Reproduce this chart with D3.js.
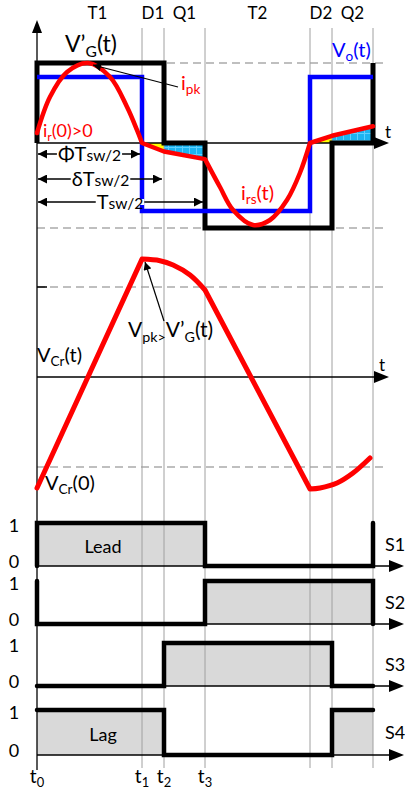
<!DOCTYPE html>
<html>
<head>
<meta charset="utf-8">
<script src="https://cdn.jsdelivr.net/npm/d3@7"></script>
<style>
  body { margin: 0; background: #fff; }
  text { font-family: Lato, "Open Sans", sans-serif; }
</style>
</head>
<body>
<div id="chart"></div>
<script>
// time instants t0..t6, in units of Tsw/2
const tInst = [0, 0.625, 0.756, 1, 1.625, 1.756, 2];
const intervalNames = ["T1", "D1", "Q1", "T2", "D2", "Q2"];
const tickSubs = ["0", "1", "2", "3"];

// square waves, one level per interval, plus level before t0 and after t6
const vgLevels = [1, 1, 0, -1, -1, 0];
const vgEnds = [0, 1];
const voLevels = [0.825, -0.8, -0.8, -0.8, 0.825, 0.825];
const voEnds = [0.825, 0.825];

// resonant current ir(t), [t, value]
const irArc1 = [[0, 0.125], [0.077, 0.575], [0.179, 0.888], [0.304, 1.0], [0.435, 0.825], [0.536, 0.45], [0.595, 0.163], [0.625, 0]];
const irLine1 = [[0.625, 0], [0.756, -0.1], [1, -0.19]];
const irArc2 = [[1, -0.19], [1.089, -0.518], [1.167, -0.788], [1.286, -0.965], [1.387, -0.906], [1.488, -0.671], [1.565, -0.353], [1.625, 0]];
const irLine2 = [[1.625, 0], [1.756, 0.09], [2, 0.21]];

// resonant capacitor voltage VCr(t)
const vcrRise = [[0, -1.233], [0.625, 1.31]];
const vcrArc1 = [[0.625, 1.31], [0.732, 1.292], [0.81, 1.244], [0.911, 1.133], [1, 0.967]];
const vcrFall = [[1, 0.967], [1.625, -1.244]];
const vcrArc2 = [[1.625, -1.244], [1.685, -1.233], [1.786, -1.178], [1.881, -1.067], [1.982, -0.9]];

// gate signals
const gateNames = ["S1", "S2", "S3", "S4"];
const gateLevels = [[1, 1, 1, 0, 0, 0], [0, 0, 0, 1, 1, 1], [0, 0, 1, 1, 1, 0], [1, 1, 0, 0, 0, 1]];
const gateEnds = [[0, 1], [1, 0], [0, 0], [1, 1]];
const gateTags = ["Lead", "", "", "Lag"];

const W = 405, H = 794;
const svg = d3.select("#chart").append("svg").attr("width", W).attr("height", H);

const defs = svg.append("defs");
const pat = defs.append("pattern").attr("id", "cy").attr("patternUnits", "userSpaceOnUse")
  .attr("width", 7).attr("height", 7);
pat.append("rect").attr("width", 7).attr("height", 7).attr("fill", "#1cb4f0");
pat.append("path").attr("d", "M0,0.5H7M0.5,0V7").attr("stroke", "#5fd0ff").attr("stroke-width", 1);

defs.append("marker").attr("id", "ah").attr("viewBox", "0 0 10 10")
  .attr("refX", 10).attr("refY", 5).attr("markerWidth", 11).attr("markerHeight", 9)
  .attr("markerUnits", "userSpaceOnUse").attr("orient", "auto-start-reverse")
  .append("path").attr("d", "M0,0L10,5L0,10Z").attr("fill", "#000");
defs.append("marker").attr("id", "ahs").attr("viewBox", "0 0 10 10")
  .attr("refX", 10).attr("refY", 5).attr("markerWidth", 9).attr("markerHeight", 8)
  .attr("markerUnits", "userSpaceOnUse").attr("orient", "auto")
  .append("path").attr("d", "M0,0L10,5L0,10Z").attr("fill", "#000");

const x = d3.scaleLinear().domain([0, 2]).range([37, 373]);
const yTop = d3.scaleLinear().domain([-1, 0, 1]).range([228, 143, 63]);
const yCr = d3.scaleLinear().domain([-1, 1]).range([467, 287]);
const gateRows = [{ base: 566, high: 523 }, { base: 624, high: 581 }, { base: 686, high: 643 }, { base: 755, high: 710 }];

function stepPts(levels, ends) {
  const p = [[tInst[0], ends[0]]];
  levels.forEach((l, i) => { p.push([tInst[i], l], [tInst[i + 1], l]); });
  p.push([tInst[tInst.length - 1], ends[1]]);
  return p;
}

function rich(sel, px, py, parts, size, color, anchor) {
  const t = sel.append("text").attr("x", px).attr("y", py)
    .attr("font-size", size).attr("fill", color || "#000")
    .attr("text-anchor", anchor || "start");
  let off = 0;
  parts.forEach(([s, kind]) => {
    const sp = t.append("tspan").text(s);
    let target = 0;
    if (kind === "sub") { sp.attr("font-size", size * 0.68); target = size * 0.22; }
    else if (kind === "small") { sp.attr("font-size", size * 0.78); }
    sp.attr("dy", target - off);
    off = target;
  });
  return t;
}

function arrowHead(px, py, dir) {
  const d = dir === "r"
    ? `M${px},${py}L${px - 15},${py - 6}L${px - 15},${py + 6}Z`
    : `M${px},${py}L${px - 5},${py + 13}L${px + 5},${py + 13}Z`;
  svg.append("path").attr("d", d).attr("fill", "#000");
}

// dashed reference lines
[yTop(1), yTop(-1), yCr(1), yCr(-1)].forEach(yy => {
  svg.append("line").attr("x1", x(0)).attr("x2", 388).attr("y1", yy).attr("y2", yy)
    .attr("stroke", "#808080").attr("stroke-width", 1.2).attr("stroke-dasharray", "8,5");
});
svg.append("line").attr("x1", x(0)).attr("x2", x(0) + 10).attr("y1", yCr(1)).attr("y2", yCr(1))
  .attr("stroke", "#000").attr("stroke-width", 1.5);

// gate gray fills (under grid)
const gStep = d3.area().curve(d3.curveStepAfter);
gateLevels.forEach((lv, k) => {
  const r = gateRows[k];
  const yg = d3.scaleLinear().domain([0, 1]).range([r.base, r.high]);
  const pts = lv.map((l, i) => [tInst[i], l]).concat([[tInst[6], lv[5]]]);
  svg.append("path").datum(pts)
    .attr("d", gStep.x(d => x(d[0])).y0(r.base).y1(d => yg(d[1])))
    .attr("fill", "#d9d9d9");
});

// yellow / cyan areas between t axis and ir(t)
const fillArea = d3.area().x(d => x(d[0])).y0(yTop(0)).y1(d => yTop(d[1]));
[[irLine1.slice(0, 2), "#ffff00"], [irLine1.slice(1, 3), "url(#cy)"],
 [irLine2.slice(0, 2), "#ffff00"], [irLine2.slice(1, 3), "url(#cy)"]].forEach(([pts, c]) => {
  svg.append("path").datum(pts).attr("d", fillArea).attr("fill", c);
});

// vertical grid lines
tInst.slice(1).forEach(t => {
  svg.append("line").attr("x1", x(t)).attr("x2", x(t)).attr("y1", 28).attr("y2", 768)
    .attr("stroke", "#a0a0a0").attr("stroke-width", 1);
});

// axes
svg.append("line").attr("x1", x(0)).attr("x2", x(0)).attr("y1", 30).attr("y2", 770)
  .attr("stroke", "#000").attr("stroke-width", 1.3);
arrowHead(x(0), 20, "u");
[yTop(0), yCr(0)].forEach(yy => {
  svg.append("line").attr("x1", x(0)).attr("x2", 378).attr("y1", yy).attr("y2", yy)
    .attr("stroke", "#000").attr("stroke-width", 1.3);
  arrowHead(389, yy, "r");
});
gateRows.forEach(r => {
  svg.append("line").attr("x1", x(0)).attr("x2", 392).attr("y1", r.base).attr("y2", r.base)
    .attr("stroke", "#000").attr("stroke-width", 1.3);
  arrowHead(404, r.base, "r");
});

// top panel waveforms
const lin = d3.line().x(d => x(d[0])).y(d => yTop(d[1]));
svg.append("path").datum(stepPts(vgLevels, vgEnds)).attr("d", lin)
  .attr("fill", "none").attr("stroke", "#000").attr("stroke-width", 5).attr("stroke-linejoin", "miter");
svg.append("path").datum(stepPts(voLevels, voEnds)).attr("d", lin)
  .attr("fill", "none").attr("stroke", "#0000ff").attr("stroke-width", 4.5).attr("stroke-linejoin", "miter");

const smooth = d3.line().x(d => x(d[0])).y(d => yTop(d[1])).curve(d3.curveCatmullRom.alpha(0.5));
const irD = [irArc1, irLine1, irArc2, irLine2].map((seg, i) => {
  const d = (i % 2 ? lin : smooth)(seg);
  return i === 0 ? d : "L" + d.slice(1);
}).join("");
svg.append("path").attr("d", irD).attr("fill", "none").attr("stroke", "#ff0000")
  .attr("stroke-width", 4.5).attr("stroke-linejoin", "round").attr("stroke-linecap", "round");

// VCr panel
const linC = d3.line().x(d => x(d[0])).y(d => yCr(d[1]));
const smC = d3.line().x(d => x(d[0])).y(d => yCr(d[1])).curve(d3.curveCatmullRom.alpha(0.5));
const vcrD = [vcrRise, vcrArc1, vcrFall, vcrArc2].map((seg, i) => {
  const d = (i % 2 ? smC : linC)(seg);
  return i === 0 ? d : "L" + d.slice(1);
}).join("");
svg.append("path").attr("d", vcrD).attr("fill", "none").attr("stroke", "#ff0000")
  .attr("stroke-width", 5).attr("stroke-linejoin", "round").attr("stroke-linecap", "round");

// gate lines
gateLevels.forEach((lv, k) => {
  const r = gateRows[k];
  const yg = d3.scaleLinear().domain([0, 1]).range([r.base, r.high]);
  svg.append("path").datum(stepPts(lv, gateEnds[k]))
    .attr("d", d3.line().x(d => x(d[0])).y(d => yg(d[1])))
    .attr("fill", "none").attr("stroke", "#000").attr("stroke-width", 4.5)
    .attr("stroke-linejoin", "miter").attr("stroke-linecap", "round");
  svg.append("text").attr("x", 14).attr("y", r.high + 4).attr("dominant-baseline", "middle")
    .attr("text-anchor", "middle").attr("font-size", 18).text("1");
  svg.append("text").attr("x", 14).attr("y", r.base - 3).attr("dominant-baseline", "middle")
    .attr("text-anchor", "middle").attr("font-size", 18).text("0");
  svg.append("text").attr("x", 385).attr("y", (r.base + r.high) / 2 + 6)
    .attr("font-size", 18).text(gateNames[k]);
  if (gateTags[k]) {
    svg.append("text").attr("x", 103).attr("y", (r.base + r.high) / 2 + 8)
      .attr("text-anchor", "middle").attr("font-size", 18).text(gateTags[k]);
  }
});

// interval names and time ticks
intervalNames.forEach((n, i) => {
  svg.append("text").attr("x", (x(tInst[i]) + x(tInst[i + 1])) / 2 + (i === 0 ? 8 : 0)).attr("y", 19)
    .attr("text-anchor", "middle").attr("font-size", 17).text(n);
});
tickSubs.forEach((s, i) => {
  rich(svg, x(tInst[i]), 783, [["t", "n"], [s, "sub"]], 19, "#000", "middle");
});

// dimension arrows
const dims = [
  { t: tInst[1], y: 154, parts: [["ΦT", "n"], ["sw/2", "small"]] },
  { t: tInst[2], y: 179, parts: [["δT", "n"], ["sw/2", "small"]] },
  { t: tInst[3], y: 202, parts: [["T", "n"], ["sw/2", "small"]] }
];
dims.forEach(dm => {
  svg.append("line").attr("x1", x(0) + 1).attr("x2", x(dm.t) - 2).attr("y1", dm.y).attr("y2", dm.y)
    .attr("stroke", "#000").attr("stroke-width", 1.3)
    .attr("marker-start", "url(#ah)").attr("marker-end", "url(#ah)");
  const cx = (x(0) + x(dm.t)) / 2 + (dm.t === 1 ? -1 : 0);
  const tx = rich(svg, cx, dm.y + 7, dm.parts, 20, "#000", "middle");
  const bb = tx.node().getBBox();
  svg.insert("rect", () => tx.node()).attr("x", bb.x - 1).attr("y", dm.y - 3)
    .attr("width", bb.width + 2).attr("height", 6).attr("fill", "#fff");
});

// annotation arrows
svg.append("line").attr("x1", 178).attr("y1", 87).attr("x2", 93).attr("y2", 65)
  .attr("stroke", "#000").attr("stroke-width", 1.2).attr("marker-end", "url(#ahs)");
svg.append("line").attr("x1", 164).attr("y1", 321).attr("x2", 145).attr("y2", 262)
  .attr("stroke", "#000").attr("stroke-width", 1.2).attr("marker-end", "url(#ahs)");

// labels
rich(svg, 65, 52, [["V’", "n"], ["G", "sub"], ["(t)", "n"]], 23, "#000");
rich(svg, 332, 57, [["V", "n"], ["o", "sub"], ["(t)", "n"]], 20, "#0000ff");
rich(svg, 181, 90, [["i", "n"], ["pk", "sub"]], 20, "#ff0000");
rich(svg, 43, 137, [["i", "n"], ["r", "sub"], ["(0)>0", "n"]], 18, "#ff0000");
rich(svg, 241, 200, [["i", "n"], ["rs", "sub"], ["(t)", "n"]], 20, "#ff0000");
rich(svg, 385, 138, [["t", "n"]], 17, "#000");
rich(svg, 379, 371, [["t", "n"]], 17, "#000");
rich(svg, 128, 337, [["V", "n"], ["pk>", "sub"], ["V’", "n"], ["G", "sub"], ["(t)", "n"]], 21, "#000");
rich(svg, 37, 362, [["V", "n"], ["Cr", "sub"], ["(t)", "n"]], 20, "#000");
rich(svg, 45, 490, [["V", "n"], ["Cr", "sub"], ["(0)", "n"]], 20, "#000");
</script>
</body>
</html>
